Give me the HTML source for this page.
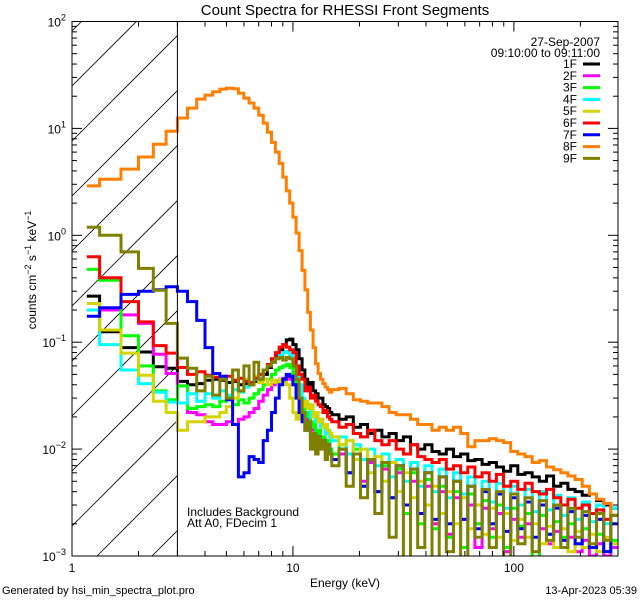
<!DOCTYPE html>
<html><head><meta charset="utf-8"><style>
html,body{margin:0;padding:0;background:#fff;width:640px;height:600px;overflow:hidden;}
svg{display:block;}
svg text{font-family:"Liberation Sans",sans-serif;fill:#000;}
</style></head><body>
<svg id="chart" width="640" height="600" viewBox="0 0 640 600" xmlns="http://www.w3.org/2000/svg">
<rect width="640" height="600" fill="#fff"/>
<defs><clipPath id="plotclip"><rect x="72" y="21.5" width="546" height="534.5"/></clipPath>
<clipPath id="hatchclip"><rect x="72" y="21.5" width="105" height="534.5"/></clipPath></defs>
<text x="345" y="15" font-size="15" text-anchor="middle">Count Spectra for RHESSI Front Segments</text>
<g id="hatch" clip-path="url(#hatchclip)"></g>
<g id="series" clip-path="url(#plotclip)"></g>
<g id="axes"></g>
<text x="600" y="46" font-size="12" text-anchor="end">27-Sep-2007</text>
<text x="600" y="57" font-size="12" text-anchor="end">09:10:00 to 09:11:00</text>
<g id="legend"></g>
<text x="187" y="516" font-size="12">Includes Background</text>
<text x="187" y="527" font-size="12">Att A0, FDecim 1</text>
<text x="345" y="587" font-size="12" text-anchor="middle">Energy (keV)</text>
<text transform="translate(36,270) rotate(-90)" font-size="12" text-anchor="middle">counts cm<tspan dy="-5" font-size="9">−2</tspan><tspan dy="5"> s</tspan><tspan dy="-5" font-size="9">−1</tspan><tspan dy="5"> keV</tspan><tspan dy="-5" font-size="9">−1</tspan></text>
<text x="2" y="594" font-size="11">Generated by hsi_min_spectra_plot.pro</text>
<text x="637" y="594" font-size="11" text-anchor="end">13-Apr-2023 05:39</text>
</svg>
<script>
const seriesNames = ["1F","2F","3F","4F","5F","6F","7F","8F","9F"];
const seriesColors = ["#000000","#ff00ff","#00ff00","#00ffff","#d4d400","#ff0000","#0000ff","#ff8000","#808000"];
const xTickValues = [1,10,100];
const xTickLabels = ["1","10","100"];
const yTickExps = [2,1,0,-1,-2,-3];
const s1F = [0.27,0.125,0.089,0.081,0.059,0.057,0.043,0.040,0.041,
0.044,0.045,0.044,0.042,0.043,0.040,0.041,0.040,0.043,0.045,0.050,0.058,0.065,0.075,0.085,0.095,0.105,0.107,0.095,0.085,0.070,0.055,0.045,0.040,0.042,0.035,0.033,0.030,0.030,0.026,0.025,0.024,0.022,
0.021,0.019,0.020,0.016,0.017,0.014,0.015,0.013,0.014,0.012,0.013,0.011,0.010,0.011,0.0095,0.009,0.010,0.0085,0.009,0.0078,0.0080,0.0072,0.0075,0.0068,0.0062,0.0070,0.0058,0.0060,0.0055,0.0050,0.0056,0.0045,0.0048,0.0042,0.0040,0.0037,0.0038,0.0033,0.0030,0.0028];
const s2F = [0.20,0.20,0.18,0.15,0.077,0.051,0.039,0.022,0.021,
0.018,0.017,0.017,0.018,0.017,0.019,0.020,0.022,0.024,0.028,0.032,0.036,0.040,0.043,0.045,0.046,0.048,0.045,0.040,0.032,0.026,0.022,0.018,0.019,0.015,0.016,0.013,0.014,0.011,0.012,0.010,0.011,0.009,
0.008,0.009,0.006,0.008,0.005,0.0075,0.004,0.0065,0.0035,0.006,0.003,0.005,0.0025,0.0045,0.002,0.004,0.0016,0.0035,0.0022,0.003,0.0012,0.0028,0.0018,0.0025,0.0011,0.0022,0.0015,0.002,0.0009,0.0018,0.0013,0.0017,0.0012,0.0015,0.0011,0.0014,0.0010,0.0013,0.0010,0.0012];
const s3F = [0.48,0.38,0.115,0.06,0.035,0.029,0.039,0.024,0.025,
0.026,0.025,0.028,0.030,0.026,0.029,0.027,0.030,0.033,0.036,0.040,0.045,0.050,0.055,0.058,0.060,0.062,0.058,0.050,0.040,0.030,0.025,0.020,0.022,0.016,0.018,0.014,0.015,0.012,0.013,0.011,0.012,0.010,
0.009,0.011,0.006,0.010,0.0045,0.008,0.004,0.007,0.0035,0.0065,0.0025,0.006,0.002,0.0052,0.0018,0.0045,0.0015,0.004,0.0012,0.0038,0.002,0.0033,0.0015,0.003,0.0012,0.0028,0.0019,0.0025,0.0009,0.0024,0.0016,0.0021,0.0015,0.002,0.0013,0.0018,0.0012,0.0016,0.0011,0.0014];
const s4F = [0.20,0.095,0.055,0.041,0.034,0.0275,0.027,0.033,0.028,
0.033,0.030,0.035,0.032,0.036,0.034,0.038,0.040,0.045,0.050,0.055,0.060,0.065,0.070,0.075,0.080,0.082,0.075,0.065,0.050,0.040,0.030,0.025,0.026,0.020,0.022,0.018,0.019,0.016,0.017,0.014,0.015,0.013,
0.012,0.013,0.009,0.011,0.008,0.010,0.007,0.009,0.0055,0.008,0.005,0.0075,0.0045,0.007,0.004,0.0065,0.0035,0.006,0.0038,0.0055,0.003,0.005,0.0032,0.0048,0.0028,0.0045,0.0030,0.0042,0.0026,0.004,0.0027,0.0037,0.0024,0.0035,0.0022,0.0032,0.0021,0.003,0.002,0.0028];
const s5F = [0.23,0.13,0.079,0.049,0.028,0.022,0.015,0.018,0.018,
0.020,0.020,0.022,0.025,0.030,0.035,0.045,0.040,0.048,0.042,0.045,0.040,0.044,0.042,0.045,0.043,0.040,0.030,0.022,0.019,0.022,0.025,0.028,0.024,0.026,0.020,0.022,0.018,0.019,0.016,0.017,0.015,0.014,
0.013,0.011,0.012,0.008,0.010,0.006,0.0085,0.005,0.0075,0.004,0.006,0.0035,0.005,0.003,0.0045,0.0025,0.004,0.002,0.0035,0.0018,0.003,0.0016,0.0028,0.0015,0.0025,0.0014,0.0022,0.0015,0.002,0.0013,0.0019,0.0012,0.0018,0.0011,0.0017,0.0012,0.0016,0.0011,0.0015,0.0013];
const s6F = [0.63,0.40,0.24,0.155,0.093,0.079,0.058,0.050,0.053,
0.049,0.047,0.045,0.048,0.044,0.046,0.043,0.042,0.046,0.050,0.055,0.062,0.070,0.080,0.090,0.095,0.090,0.085,0.080,0.060,0.050,0.045,0.035,0.038,0.030,0.032,0.028,0.026,0.025,0.022,0.023,0.020,0.019,
0.018,0.016,0.017,0.014,0.013,0.015,0.012,0.011,0.012,0.010,0.009,0.011,0.0085,0.008,0.0075,0.0080,0.0065,0.0070,0.0060,0.0068,0.0055,0.0060,0.0050,0.0058,0.0045,0.0050,0.0042,0.0048,0.0040,0.0038,0.0042,0.0035,0.0030,0.0034,0.0028,0.0030,0.0025,0.0027,0.0022,0.0024];
const s7F = [0.175,0.21,0.28,0.30,0.31,0.33,0.30,0.24,0.16,
0.089,0.051,0.048,0.029,0.017,0.0055,0.0060,0.0085,0.0080,0.0075,0.012,0.015,0.022,0.030,0.040,0.045,0.050,0.048,0.040,0.030,0.022,0.018,0.015,0.016,0.013,0.014,0.012,0.013,0.011,0.012,0.010,0.011,0.009,
0.008,0.010,0.006,0.009,0.0045,0.008,0.004,0.0075,0.0035,0.007,0.003,0.0065,0.0025,0.006,0.0022,0.0055,0.002,0.005,0.0022,0.0045,0.0018,0.004,0.002,0.0038,0.0017,0.0035,0.0018,0.0032,0.0015,0.003,0.0016,0.0028,0.0014,0.0026,0.0013,0.0024,0.0012,0.0022,0.0011,0.002];
const s8F = [2.9,3.35,4.16,5.4,7.1,9.4,12.5,15.5,18.8,20.5,22,23.3,23.8,23.5,21.3,19.2,17.3,15.5,13.3,11.2,9.2,7.4,6.0,4.7,3.5,2.6,2.0,1.48,1.05,0.72,0.47,0.31,0.19,0.13,0.089,0.063,0.051,0.045,0.041,0.038,0.036,0.034,
0.036,0.037,0.033,0.029,0.028,0.027,0.027,0.025,0.022,0.021,0.021,0.019,0.017,0.017,0.015,0.016,0.015,0.016,0.014,0.0105,0.012,0.012,0.0125,0.012,0.0115,0.0095,0.009,0.0085,0.0075,0.0078,0.0068,0.0064,0.006,0.0056,0.0052,0.0045,0.0038,0.0034,0.0031,0.0024];
const s9F = [1.19,1.0,0.70,0.49,0.306,0.150,0.071,0.057,0.035,
0.048,0.032,0.045,0.030,0.055,0.035,0.060,0.040,0.065,0.045,0.055,0.060,0.065,0.070,0.072,0.068,0.072,0.070,0.060,0.045,0.030,0.022,0.015,0.018,0.010,0.014,0.009,0.013,0.010,0.012,0.008,0.011,0.009,
0.007,0.010,0.0045,0.009,0.0035,0.008,0.0025,0.0075,0.0015,0.007,0.0008,0.0065,0.0012,0.006,0.0007,0.0055,0.0011,0.005,0.0008,0.0045,0.0015,0.0042,0.0012,0.004,0.0009,0.0038,0.0013,0.0035,0.0011,0.0033,0.0014,0.003,0.0012,0.0028,0.0015,0.0026,0.0013,0.0025,0.0014,0.0024];
const allSeries = [s1F,s2F,s3F,s4F,s5F,s6F,s7F,s8F,s9F];

const NS = "http://www.w3.org/2000/svg";
const X0 = 72, X1 = 618, Y0 = 21.5, Y1 = 556;
const DEC = (X1 - X0) / Math.log10(296);
function xScale(e){ return X0 + DEC * Math.log10(e); }
function yScale(v){ const l = Math.log10(Math.max(v, 1e-4)); return Math.min(Y1 + 4, Y0 + (2 - l) * (Y1 - Y0) / 5); }
function mk(tag, attrs, parent){ const el = document.createElementNS(NS, tag); for (const k in attrs) el.setAttribute(k, attrs[k]); parent.appendChild(el); return el; }

const edges = [7/6];
for (let i = 4; i <= 45; i++) edges.push(i/3);
const r = Math.pow(296/15, 1/40);
for (let j = 1; j <= 40; j++) edges.push(15 * Math.pow(r, j));

// hatch lines clipped analytically to hatch box
const hatch = document.getElementById('hatch');
const HX1 = xScale(3);
for (let k = -2; k < 12; k++) {
  const c = 86 + 55 * k; // y at x=72; y = c - (x-72)
  let xa = X0, ya = c;
  if (ya > Y1) { xa = X0 + (ya - Y1); ya = Y1; }
  let xb = HX1, yb = c - (HX1 - X0);
  if (yb < Y0) { xb = X0 + (c - Y0); yb = Y0; }
  if (xa >= xb) continue;
  const ln = mk('line', {x1: xa.toFixed(1), y1: ya.toFixed(1), x2: xb.toFixed(1), y2: yb.toFixed(1), stroke: '#000', 'stroke-width': 0.8}, hatch);
  
  
}
const vline = mk('line', {x1: HX1, y1: Y0, x2: HX1, y2: Y1, stroke: '#000', 'stroke-width': 1}, hatch.parentNode);



const sg = document.getElementById('series');
allSeries.forEach((vals, si) => {
  let d = '';
  vals.forEach((v, i) => {
    const xa = xScale(edges[i]), xb = xScale(edges[i+1]), y = yScale(v);
    d += (i === 0 ? 'M' : 'L') + xa.toFixed(1) + ' ' + y.toFixed(1) + 'L' + xb.toFixed(1) + ' ' + y.toFixed(1);
  });
  const p = mk('path', {d: d, fill: 'none', stroke: seriesColors[si], 'stroke-width': 3, 'stroke-linejoin': 'miter'}, sg);
  
  
});

const ax = document.getElementById('axes');
const frame = mk('rect', {x: X0, y: Y0, width: X1 - X0, height: Y1 - Y0, fill: 'none', stroke: '#000', 'stroke-width': 1}, ax);


for (let dcd = 1; dcd <= 100; dcd *= 10) {
  for (let m = 1; m <= 9; m++) {
    const e = dcd * m; if (e > 296) break;
    const x = xScale(e), len = m === 1 ? 10 : 5;
    mk('line', {x1: x, y1: Y1, x2: x, y2: Y1 - len, stroke: '#000'}, ax);
    mk('line', {x1: x, y1: Y0, x2: x, y2: Y0 + len, stroke: '#000'}, ax);
  }
}
xTickValues.forEach((v, i) => {
  const t = mk('text', {x: xScale(v), y: 572, 'font-size': 12, 'text-anchor': 'middle'}, ax);
  t.textContent = xTickLabels[i];
  
  
});
for (let ex = -3; ex <= 1; ex++) {
  for (let m = 1; m <= 9; m++) {
    const y = yScale(m * Math.pow(10, ex)), len = m === 1 ? 10 : 5;
    mk('line', {x1: X0, y1: y, x2: X0 + len, y2: y, stroke: '#000'}, ax);
    mk('line', {x1: X1, y1: y, x2: X1 - len, y2: y, stroke: '#000'}, ax);
  }
}
yTickExps.forEach(ex => {
  const y = yScale(Math.pow(10, ex));
  const t = mk('text', {x: 66, y: y + 5, 'font-size': 12, 'text-anchor': 'end'}, ax);
  t.innerHTML = '10<tspan dy="-6" font-size="9">' + (ex < 0 ? '−' + (-ex) : ex) + '</tspan>';
  
  
});

const lg = document.getElementById('legend');
seriesNames.forEach((n, i) => {
  const y = 64 + i * 11.8;
  const t = mk('text', {x: 577, y: y + 4, 'font-size': 12, 'text-anchor': 'end'}, lg);
  t.textContent = n;
  
  
  const l = mk('line', {x1: 583, y1: y, x2: 600, y2: y, stroke: seriesColors[i], 'stroke-width': 3}, lg);
  
  
});
</script>
</body></html>
